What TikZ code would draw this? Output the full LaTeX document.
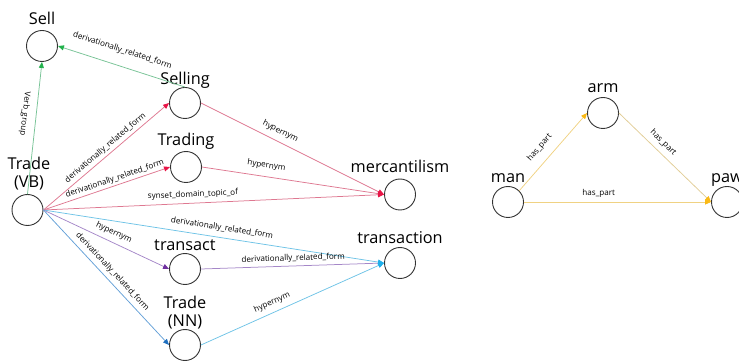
\documentclass[tikz,border=0pt]{standalone}
\usepackage{fontspec}
\setmainfont{Open Sans}
\usetikzlibrary{arrows.meta}
\definecolor{greenT}{RGB}{34,177,76}
\definecolor{greenL}{RGB}{120,195,150}
\definecolor{redT}{RGB}{232,20,70}
\definecolor{redL}{RGB}{222,120,145}
\definecolor{purT}{RGB}{112,48,160}
\definecolor{purL}{RGB}{165,135,200}
\definecolor{blueT}{RGB}{30,110,190}
\definecolor{blueL}{RGB}{100,160,215}
\definecolor{cyanT}{RGB}{30,175,235}
\definecolor{cyanL}{RGB}{110,195,230}
\definecolor{oraT}{RGB}{250,185,20}
\definecolor{oraL}{RGB}{240,210,130}
\definecolor{tanL}{RGB}{225,205,150}
\begin{document}
\begin{tikzpicture}[x=1pt,y=-1pt,
  vtx/.style={circle,draw=black!80,line width=0.9pt,minimum size=31pt,inner sep=0pt},
  nlab/.style={anchor=south,inner sep=0pt,text depth=0pt,align=center,font=\fontsize{16.3}{18.5}\selectfont},
  elab/.style={font=\fontsize{8.1}{9}\selectfont,inner sep=0pt,sloped},
  conn/.style args={#1/#2}{draw=#1,line width=0.75pt,-{Triangle[length=6pt,width=5pt,color=#2]}},
  connr/.style args={#1/#2}{draw=#1,line width=0.75pt,{Triangle[length=6pt,width=5pt,color=#2]}-},
]
\useasboundingbox (0,0) rectangle (739,363);
% vertices
\node[vtx] (sell) at (42,46) {};
\node[vtx] (selling) at (185,103) {};
\node[vtx] (trading) at (186,167) {};
\node[vtx] (tvb) at (27.5,210) {};
\node[vtx] (transact) at (185,269) {};
\node[vtx] (tnn) at (185,345) {};
\node[vtx] (merc) at (400,194.5) {};
\node[vtx] (transaction) at (400,263) {};
\node[vtx] (man) at (508,202) {};
\node[vtx] (arm) at (603,113) {};
\node[vtx] (paw) at (727,202) {};
% labels
\node[nlab] (sell-l) at (42,25) {Sell};
\node[nlab] (selling-l) at (185,85) {Selling};
\node[nlab] (trading-l) at (186,146) {Trading};
\node[nlab] (tvb-l) at (29,188) {Trade\\(VB)};
\node[nlab] (transact-l) at (185,251) {transact};
\node[nlab] (tnn-l) at (185,327) {Trade\\(NN)};
\node[nlab] (merc-l) at (400,173) {mercantilism};
\node[nlab] (transaction-l) at (400,244) {transaction};
\node[nlab] (man-l) at (508,183) {man};
\node[nlab] (arm-l) at (603,93) {arm};
\node[nlab] (paw-l) at (727,183) {paw};
% edges
\draw[connr=greenL/greenT] (sell.south) -- node[elab,allow upside down,pos=0.4,below=7pt] {Verb\_group} (tvb.north);
\draw[conn=greenL/greenT] (selling.north) -- node[elab,pos=0.53,above=11pt] {derivationally\_related\_form} (sell.east);
\draw[conn=redL/redT] (tvb.east) -- node[elab,pos=0.53,above=2.5pt] {derivationally\_related\_form} (selling.west);
\draw[conn=redL/redT] (tvb.east) -- node[elab,pos=0.58,above=2pt] {derivationally\_related\_form} (trading.west);
\draw[conn=redL/redT] (tvb.east) -- node[elab,pos=0.44,above=4pt] {synset\_domain\_topic\_of} (merc.west);
\draw[conn=cyanL/cyanT] (tvb.east) -- node[elab,pos=0.52,above=5pt] {derivationally\_related\_form} (transaction.west);
\draw[conn=purL/purT] (tvb.east) -- node[elab,pos=0.53,above=5pt] {hypernym} (transact.west);
\draw[conn=blueL/blueT] (tvb.east) -- node[elab,pos=0.5,above=4pt] {derivationally\_related\_form} (tnn.west);
\draw[conn=redL/redT] (selling.east) -- node[elab,pos=0.41,above=5.5pt] {hypernym} (merc.west);
\draw[conn=redL/redT] (trading.east) -- node[elab,pos=0.345,above=6.5pt] {hypernym} (merc.west);
\draw[conn=purL/cyanT] (transact.east) -- node[elab,pos=0.505,above=3pt] {derivationally\_related\_form} (transaction.west);
\draw[conn=cyanL/cyanT] (tnn.east) -- node[elab,pos=0.41,above=5pt] {hypernym} (transaction.west);
\draw[conn=oraL/oraT] (man.north east) -- node[elab,pos=0.445,above=8.5pt] {has\_part} (arm.west);
\draw[conn=tanL/oraT] (arm.east) -- node[elab,pos=0.41,above=5pt] {has\_part} (paw.west);
\draw[conn=oraL/oraT] (man.east) -- node[elab,pos=0.40,above=4pt] {has\_part} (paw.west);
\end{tikzpicture}
\end{document}
